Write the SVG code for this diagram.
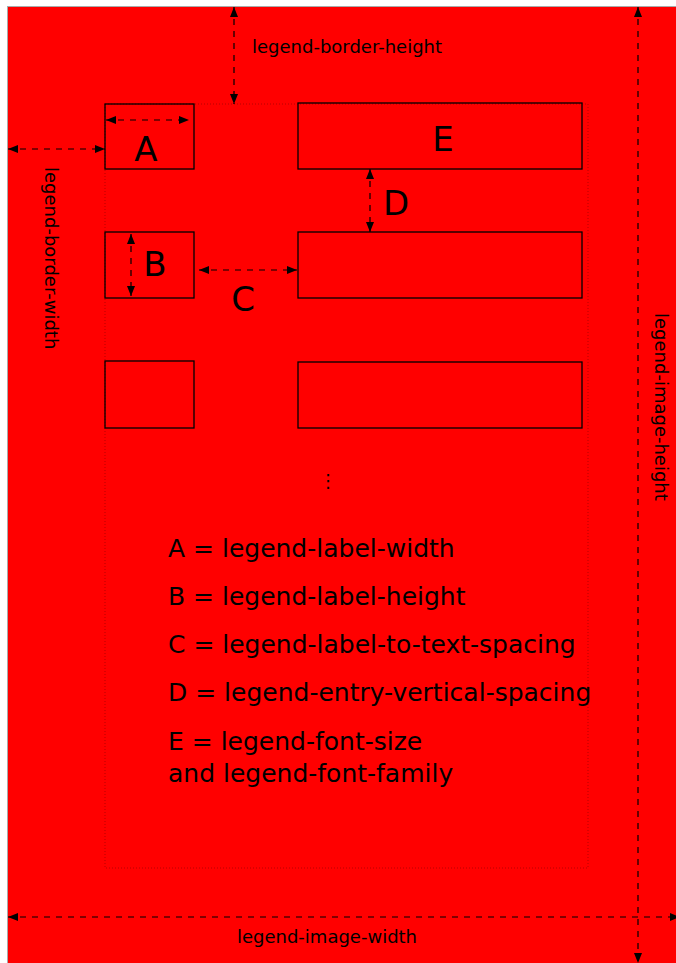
<svg xmlns="http://www.w3.org/2000/svg" width="676" height="963" viewBox="0 0 676 963">
<style>
.box{fill:none;stroke:#000;stroke-width:1.3}
.dim{fill:none;stroke:#000;stroke-width:1.2;stroke-dasharray:6,6}
.guide{fill:none;stroke:#600;stroke-width:0.8;stroke-dasharray:1,2;opacity:0.6}
text{font-family:"DejaVu Sans","Verdana",sans-serif;fill:#000}
.s{font-size:18px}
.big{font-size:34px;text-anchor:middle}
.mid{font-size:25px}
</style>
<defs>
<marker id="ah" viewBox="0 0 10 10" refX="10" refY="5" markerWidth="10" markerHeight="10" markerUnits="userSpaceOnUse" orient="auto-start-reverse">
<path d="M0,1 L10,5 L0,9 z" fill="#000"/>
</marker>
</defs>
<rect x="7.5" y="6.5" width="670" height="958" fill="#ff0000" stroke="#aaa" stroke-width="1"/>
<rect class="guide" x="105" y="104" width="483" height="764"/>
<g id="box-a"><rect class="box" x="105" y="104" width="89" height="65"/><text class="big" x="146" y="161">A</text></g>
<g id="box-b"><rect class="box" x="105" y="232" width="89" height="66"/><text class="big" x="155" y="276">B</text></g>
<g id="box-row3-left"><rect class="box" x="105" y="361" width="89" height="67"/></g>
<g id="box-e"><rect class="box" x="298" y="103" width="284" height="66"/><text class="big" x="443" y="151">E</text></g>
<g id="box-row2-right"><rect class="box" x="298" y="232" width="284" height="66"/></g>
<g id="box-row3-right"><rect class="box" x="298" y="362" width="284" height="66"/></g>
<g id="connectors">
<line class="dim" x1="234" y1="7" x2="234" y2="104" marker-start="url(#ah)" marker-end="url(#ah)"/>
<line class="dim" x1="8" y1="149" x2="105" y2="149" marker-start="url(#ah)" marker-end="url(#ah)"/>
<line class="dim" x1="106" y1="120" x2="189" y2="120" marker-start="url(#ah)" marker-end="url(#ah)"/>
<line class="dim" x1="131" y1="234" x2="131" y2="296" marker-start="url(#ah)" marker-end="url(#ah)"/>
<line class="dim" x1="199" y1="270" x2="297" y2="270" marker-start="url(#ah)" marker-end="url(#ah)"/>
<line class="dim" x1="370" y1="169" x2="370" y2="232" marker-start="url(#ah)" marker-end="url(#ah)"/>
<line class="dim" x1="638" y1="7" x2="638" y2="963" marker-start="url(#ah)" marker-end="url(#ah)"/>
<line class="dim" x1="8" y1="917" x2="680" y2="917" marker-start="url(#ah)" marker-end="url(#ah)"/>
</g>
<g id="labels">
<text class="s" x="252" y="53">legend-border-height</text>
<text class="s" transform="translate(45,167) rotate(90)">legend-border-width</text>
<text class="s" transform="translate(655,313) rotate(90)">legend-image-height</text>
<text class="s" x="327" y="943" text-anchor="middle">legend-image-width</text>
<text class="big" x="243" y="311">C</text>
<text class="big" x="396" y="215">D</text>
<text x="328" y="487" font-size="18" text-anchor="middle">⋮</text>
<text class="mid" x="168" y="557">A = legend-label-width</text>
<text class="mid" x="168" y="605">B = legend-label-height</text>
<text class="mid" x="168" y="653">C = legend-label-to-text-spacing</text>
<text class="mid" x="168" y="701">D = legend-entry-vertical-spacing</text>
<text class="mid" x="168" y="750">E = legend-font-size</text>
<text class="mid" x="168" y="782">and legend-font-family</text>
</g>
</svg>
